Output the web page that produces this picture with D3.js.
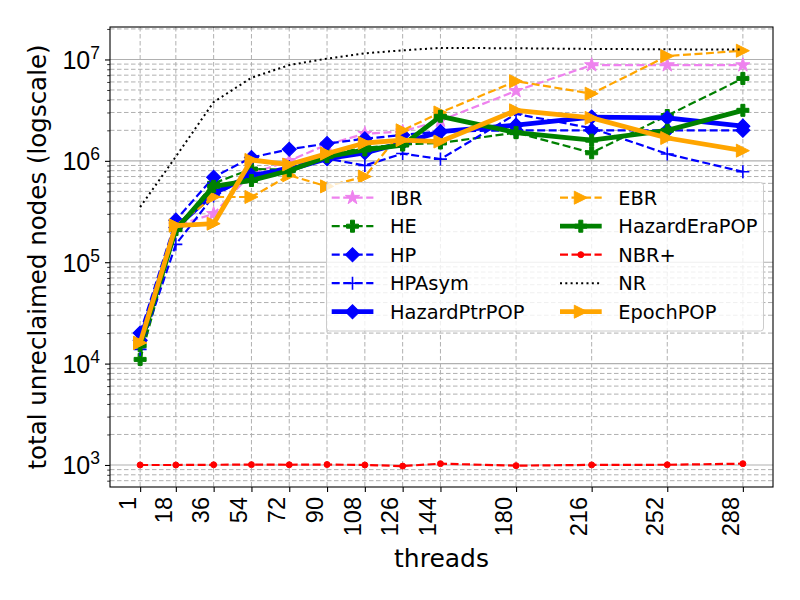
<!DOCTYPE html>
<html>
<head>
<meta charset="utf-8">
<script src="https://cdn.jsdelivr.net/npm/d3@7"></script>
<style>
  body { margin: 0; background: #fff; }
  svg { font-family: "DejaVu Sans", sans-serif; }
</style>
</head>
<body>
<svg id="chart" width="800" height="600"></svg>
<script>
// thread counts (x axis)
const threads = [1, 18, 36, 54, 72, 90, 108, 126, 144, 180, 216, 252, 288];

// total unreclaimed nodes per scheme
const IBR          = [1.6e4, 2.3e5, 3.0e5, 7.5e5, 1.0e6, 1.45e6, 1.85e6, 1.95e6, 2.5e6, 4.9e6, 8.8e6, 8.8e6, 8.8e6];
const HE           = [1.1e4, 2.1e5, 6.0e5, 8.3e5, 8.2e5, 1.15e6, 1.35e6, 1.45e6, 1.5e6, 1.9e6, 1.2e6, 2.8e6, 6.5e6];
const HP           = [2.0e4, 2.6e5, 6.9e5, 1.08e6, 1.3e6, 1.48e6, 1.65e6, 1.8e6, 1.95e6, 2.0e6, 2.0e6, 2.0e6, 2.0e6];
const HPAsym       = [1.38e4, 1.5e5, 4.5e5, 7.2e5, 8.8e5, 1.05e6, 9.0e5, 1.18e6, 1.04e6, 2.9e6, 2.1e6, 1.17e6, 7.8e5];
const HazardPtrPOP = [1.7e4, 2.2e5, 4.8e5, 7.2e5, 8.2e5, 1.05e6, 1.2e6, 1.5e6, 1.94e6, 2.25e6, 2.7e6, 2.65e6, 2.2e6];
const EBR          = [1.6e4, 2.3e5, 4.4e5, 4.4e5, 7.2e5, 5.6e5, 7.0e5, 2.0e6, 3.0e6, 6.1e6, 4.6e6, 1.08e7, 1.22e7];
const HazardEraPOP = [1.5e4, 2.1e5, 5.6e5, 6.4e5, 8.0e5, 1.1e6, 1.28e6, 1.43e6, 2.75e6, 1.9e6, 1.6e6, 2.0e6, 3.15e6];
const NBRplus      = [1000, 1000, 1005, 1008, 1005, 1010, 1000, 975, 1030, 985, 1002, 1005, 1030];
const NR           = [3.5e5, 1.1e6, 3.8e6, 6.6e6, 8.8e6, 1.02e7, 1.15e7, 1.23e7, 1.3e7, 1.29e7, 1.27e7, 1.26e7, 1.25e7];
const EpochPOP     = [1.6e4, 2.3e5, 2.4e5, 1.02e6, 9.2e5, 1.18e6, 1.5e6, 1.6e6, 1.55e6, 3.15e6, 2.65e6, 1.68e6, 1.26e6];

const yTicks = [1e3, 1e4, 1e5, 1e6, 1e7];

const series = [
  { name: "IBR",          values: IBR,          color: "violet", lw: 2.2, dash: "8,3.5", marker: "star" },
  { name: "HE",           values: HE,           color: "green",  lw: 2.2, dash: "8,3.5", marker: "plusFilled" },
  { name: "HP",           values: HP,           color: "blue",   lw: 2.2, dash: "8,3.5", marker: "diamond" },
  { name: "HPAsym",       values: HPAsym,       color: "blue",   lw: 2.2, dash: "8,3.5", marker: "plus" },
  { name: "HazardPtrPOP", values: HazardPtrPOP, color: "blue",   lw: 4.8, dash: null,    marker: "diamond" },
  { name: "EBR",          values: EBR,          color: "orange", lw: 2.2, dash: "8,3.5", marker: "triRight" },
  { name: "HazardEraPOP", values: HazardEraPOP, color: "green",  lw: 4.8, dash: null,    marker: "plusFilled" },
  { name: "NBR+",         values: NBRplus,      color: "red",    lw: 2.2, dash: "8,3.5", marker: "point" },
  { name: "NR",           values: NR,           color: "black",  lw: 2,   dash: "2,3.3", marker: null },
  { name: "EpochPOP",     values: EpochPOP,     color: "orange", lw: 4.8, dash: null,    marker: "triRight" }
];

const margin = { left: 110, right: 27, top: 27, bottom: 113 };
const width = 800, height = 600;
const innerW = width - margin.left - margin.right;
const innerH = height - margin.top - margin.bottom;

const svg = d3.select("#chart");
const g = svg.append("g").attr("transform", `translate(${margin.left},${margin.top})`);

// matplotlib-style 5% margins (log space on y)
const xMin = d3.min(threads), xMax = d3.max(threads);
const xPad = (xMax - xMin) * 0.05;
const x = d3.scaleLinear().domain([xMin - xPad, xMax + xPad]).range([0, innerW]);

const allVals = series.flatMap((s) => s.values);
const lMin = Math.log10(d3.min(allVals)), lMax = Math.log10(d3.max(allVals));
const lPad = (lMax - lMin) * 0.05;
const y = d3.scaleLog().domain([10 ** (lMin - lPad), 10 ** (lMax + lPad)]).range([innerH, 0]);

// minor tick values 2..9 x 10^n inside the domain
const minorTicks = [];
for (let e = 2; e <= 7; e++) {
  for (let m = 2; m <= 9; m++) {
    const v = m * 10 ** e;
    if (v >= y.domain()[0] && v <= y.domain()[1]) minorTicks.push(v);
  }
}

const gridColor = "#b0b0b0";

// grid
g.append("g")
  .selectAll("line")
  .data(minorTicks)
  .join("line")
  .attr("x1", 0).attr("x2", innerW)
  .attr("y1", (d) => y(d)).attr("y2", (d) => y(d))
  .attr("stroke", gridColor).attr("stroke-width", 1).attr("stroke-dasharray", "4.5,2.5");

g.append("g")
  .selectAll("line")
  .data(yTicks)
  .join("line")
  .attr("x1", 0).attr("x2", innerW)
  .attr("y1", (d) => y(d)).attr("y2", (d) => y(d))
  .attr("stroke", gridColor).attr("stroke-width", 1.1);

g.append("g")
  .selectAll("line")
  .data(threads)
  .join("line")
  .attr("x1", (d) => x(d)).attr("x2", (d) => x(d))
  .attr("y1", 0).attr("y2", innerH)
  .attr("stroke", gridColor).attr("stroke-width", 1).attr("stroke-dasharray", "4.5,2.5");

// markers
function markerPath(type) {
  switch (type) {
    case "star": return d3.symbol(d3.symbolStar, 62)();
    case "plusFilled": return d3.symbol(d3.symbolCross, 80)();
    case "diamond": return d3.symbol(d3.symbolSquare, 100)();
    case "plus": return "M-6.5,0H6.5M0,-6.5V6.5";
    case "triRight": return "M6.5,0L-6.5,-6.5L-6.5,6.5Z";
    case "point": return d3.symbol(d3.symbolCircle, 28)();
    default: return null;
  }
}

function drawMarker(sel, s, cx, cy) {
  if (!s.marker) return;
  const rot = s.marker === "diamond" ? 45 : 0;
  sel.append("path")
    .attr("d", markerPath(s.marker))
    .attr("transform", `translate(${cx},${cy}) rotate(${rot})`)
    .attr("fill", s.marker === "plus" ? "none" : s.color)
    .attr("stroke", s.color)
    .attr("stroke-width", s.marker === "plus" ? 1.6 : 1);
}

const line = d3.line().x((d) => x(d[0])).y((d) => y(d[1]));

const plot = g.append("g");
series.forEach((s) => {
  const pts = threads.map((t, i) => [t, s.values[i]]);
  const sg = plot.append("g");
  sg.append("path")
    .datum(pts)
    .attr("d", line)
    .attr("fill", "none")
    .attr("stroke", s.color)
    .attr("stroke-width", s.lw)
    .attr("stroke-dasharray", s.dash)
    .attr("stroke-linejoin", "round");
  pts.forEach((p) => drawMarker(sg, s, x(p[0]), y(p[1])));
});

// axes
const xAxis = g.append("g")
  .attr("transform", `translate(0,${innerH})`)
  .call(d3.axisBottom(x).tickValues(threads).tickSize(5).tickFormat(""));
xAxis.select(".domain").remove();
xAxis.selectAll("line").attr("stroke", "#000").attr("stroke-width", 1.1);

xAxis.selectAll(".tick")
  .append("text")
  .attr("transform", "translate(-4.8,10) rotate(-90)")
  .attr("text-anchor", "end")
  .attr("fill", "#000")
  .attr("font-size", 23.5)
  .text((d) => d);

const yAxis = g.append("g").call(d3.axisLeft(y).tickValues(yTicks).tickSize(5).tickFormat(""));
yAxis.select(".domain").remove();
yAxis.selectAll("line").attr("stroke", "#000").attr("stroke-width", 1.1);

const yMinor = g.append("g").call(d3.axisLeft(y).tickValues(minorTicks).tickSize(2.8).tickFormat(""));
yMinor.select(".domain").remove();
yMinor.selectAll("line").attr("stroke", "#000").attr("stroke-width", 0.8);

yAxis.selectAll(".tick")
  .append("text")
  .attr("x", -10)
  .attr("y", 9)
  .attr("text-anchor", "end")
  .attr("fill", "#000")
  .attr("font-size", 25)
  .each(function (d) {
    const t = d3.select(this);
    t.append("tspan").text("10");
    t.append("tspan").attr("font-size", 17.5).attr("dy", -10).text(Math.round(Math.log10(d)));
  });

// frame
g.append("rect")
  .attr("width", innerW).attr("height", innerH)
  .attr("fill", "none").attr("stroke", "#000").attr("stroke-width", 1.1);

// axis labels
svg.append("text")
  .attr("x", margin.left + innerW / 2)
  .attr("y", 567)
  .attr("text-anchor", "middle")
  .attr("font-size", 25)
  .text("threads");

svg.append("text")
  .attr("transform", `translate(46,${margin.top + innerH / 2}) rotate(-90)`)
  .attr("text-anchor", "middle")
  .attr("font-size", 24.5)
  .text("total unreclaimed nodes (logscale)");

// legend (two columns, filled column first)
const legend = svg.append("g");
legend.append("rect")
  .attr("x", 326.5).attr("y", 182.5)
  .attr("width", 437).attr("height", 148.5)
  .attr("rx", 3)
  .attr("fill", "#fff").attr("fill-opacity", 0.8)
  .attr("stroke", "#cccccc").attr("stroke-width", 1);

const rowY = d3.range(5).map((i) => 197.7 + i * 28.5);
const colX = [331.7, 560];
series.forEach((s, i) => {
  const col = Math.floor(i / 5), row = i % 5;
  const lx = colX[col], ly = rowY[row];
  const item = legend.append("g");
  item.append("line")
    .attr("x1", lx).attr("x2", lx + 41.7)
    .attr("y1", ly).attr("y2", ly)
    .attr("stroke", s.color)
    .attr("stroke-width", s.lw)
    .attr("stroke-dasharray", s.dash);
  drawMarker(item, s, lx + 20.8, ly);
  item.append("text")
    .attr("x", lx + 58.3)
    .attr("y", ly + 7)
    .attr("font-size", 19.4)
    .text(s.name);
});
</script>
</body>
</html>
